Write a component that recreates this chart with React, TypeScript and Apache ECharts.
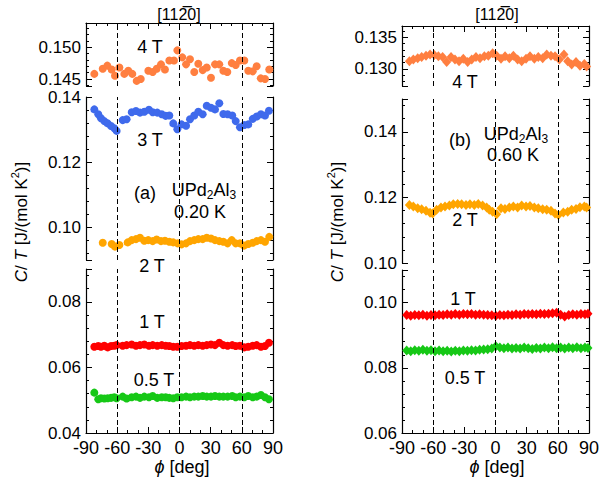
import React, { useEffect, useRef } from "react";
import * as echarts from "echarts";

const FONT = '"Liberation Sans", Arial, Helvetica, sans-serif';

// ---------- (a) UPd2Al3, 0.20 K (left) ----------
const phiL4 = [-82.0, -73.9, -69.5, -65.3, -62.1, -57.9, -53.1, -49.3, -45.4, -41.2, -37.3, -30.0, -25.8, -21.9, -17.8, -14.0, -9.8, -5.3, -2.1, 2.7, 6.3, 10.1, 14.2, 18.1, 22.3, 26.2, 30.3, 34.2, 38.3, 42.2, 46.0, 50.3, 54.1, 58.2, 62.4, 66.2, 70.5, 74.3, 78.2, 82.3, 86.4];
const ctL4 = [0.1458, 0.1466, 0.1471, 0.1465, 0.1455, 0.1468, 0.1458, 0.1463, 0.1458, 0.1447, 0.1450, 0.1463, 0.1461, 0.1466, 0.1473, 0.1465, 0.1479, 0.1479, 0.1495, 0.1484, 0.1473, 0.1481, 0.1461, 0.1474, 0.1464, 0.1468, 0.1452, 0.1473, 0.1473, 0.1463, 0.1461, 0.1475, 0.1472, 0.1479, 0.1479, 0.1463, 0.1462, 0.1470, 0.1451, 0.1450, 0.1465];

const phiL3 = [-82.0, -78.2, -75.6, -72.4, -69.1, -65.9, -62.8, -60.5, -54.7, -50.9, -46.0, -41.9, -38.0, -33.9, -29.4, -25.8, -21.4, -17.1, -13.3, -9.8, -6.0, -2.1, 2.0, 6.3, 10.1, 14.2, 18.1, 22.3, 26.2, 30.3, 34.2, 38.3, 42.2, 46.3, 50.8, 54.1, 58.2, 62.4, 66.2, 70.5, 74.3, 78.4, 82.3, 86.1];
const ctL3 = [0.1362, 0.1347, 0.1335, 0.1326, 0.1319, 0.1311, 0.1304, 0.1296, 0.1329, 0.1332, 0.1353, 0.1357, 0.1352, 0.1355, 0.1361, 0.1353, 0.1352, 0.1347, 0.1342, 0.1343, 0.1319, 0.1301, 0.1316, 0.1312, 0.1332, 0.1343, 0.1355, 0.1347, 0.1373, 0.1367, 0.1362, 0.1381, 0.1348, 0.1347, 0.1343, 0.1326, 0.1307, 0.1314, 0.1316, 0.1333, 0.1340, 0.1347, 0.1343, 0.1358];

const phiL2 = [-73.9, -65.3, -62.1, -57.9, -49.9, -46.0, -41.9, -38.0, -33.9, -30.1, -25.8, -22.0, -17.8, -14.0, -9.8, -6.0, -1.8, 2.0, 6.3, 10.1, 14.2, 18.1, 22.3, 26.2, 30.3, 34.2, 38.3, 42.2, 46.3, 50.3, 54.1, 58.2, 62.1, 66.2, 70.5, 74.3, 78.4, 82.3, 86.4];
const ctL2 = [0.0953, 0.0949, 0.0941, 0.0946, 0.0954, 0.0961, 0.0964, 0.0968, 0.0959, 0.0961, 0.0958, 0.0963, 0.0958, 0.0959, 0.0956, 0.0954, 0.0951, 0.0948, 0.0951, 0.0958, 0.0961, 0.0964, 0.0964, 0.0968, 0.0966, 0.0961, 0.0958, 0.0956, 0.0951, 0.0961, 0.0951, 0.0951, 0.0944, 0.0949, 0.0953, 0.0958, 0.0961, 0.0956, 0.0971];

const phiL1 = phiL3;
const ctL1 = [0.0663, 0.0665, 0.0663, 0.0666, 0.0661, 0.0665, 0.0666, 0.0668, 0.0666, 0.0668, 0.0670, 0.0666, 0.0668, 0.0670, 0.0666, 0.0668, 0.0666, 0.0668, 0.0666, 0.0665, 0.0663, 0.0663, 0.0665, 0.0666, 0.0668, 0.0666, 0.0668, 0.0666, 0.0668, 0.0670, 0.0668, 0.0675, 0.0668, 0.0666, 0.0668, 0.0665, 0.0666, 0.0661, 0.0663, 0.0666, 0.0668, 0.0663, 0.0665, 0.0675];
const ctL05 = [0.0523, 0.0503, 0.0506, 0.0505, 0.0506, 0.0507, 0.0509, 0.0506, 0.0511, 0.0505, 0.0509, 0.0511, 0.0507, 0.0511, 0.0509, 0.0513, 0.0507, 0.0509, 0.0509, 0.0507, 0.0506, 0.0509, 0.0509, 0.0511, 0.0509, 0.0511, 0.0511, 0.0513, 0.0511, 0.0511, 0.0513, 0.0511, 0.0511, 0.0511, 0.0513, 0.0509, 0.0511, 0.0509, 0.0513, 0.0509, 0.0511, 0.0516, 0.0509, 0.0503];

// ---------- (b) UPd2Al3, 0.60 K (right) ----------
const phiR4 = [-82.9, -79.1, -74.9, -71.1, -66.9, -63.0, -58.9, -55.0, -50.9, -47.0, -42.8, -39.0, -35.1, -31.0, -26.8, -22.9, -18.8, -14.9, -10.7, -6.9, -2.7, 1.1, 5.3, 9.2, 13.3, 17.2, 21.3, 25.2, 29.4, 33.2, 37.4, 41.2, 45.4, 49.3, 53.4, 57.3, 61.5, 65.9, 69.5, 73.3, 77.5, 81.3, 85.5, 87.7];
const ctR4 = [0.1312, 0.1315, 0.1317, 0.1319, 0.1321, 0.1323, 0.1322, 0.1320, 0.1319, 0.1311, 0.1319, 0.1315, 0.1312, 0.1316, 0.1311, 0.1315, 0.1319, 0.1317, 0.1320, 0.1321, 0.1325, 0.1321, 0.1316, 0.1320, 0.1317, 0.1321, 0.1315, 0.1312, 0.1316, 0.1320, 0.1316, 0.1319, 0.1317, 0.1323, 0.1321, 0.1320, 0.1315, 0.1323, 0.1312, 0.1307, 0.1311, 0.1305, 0.1308, 0.1304];

const phiR2 = [-82.9, -79.1, -74.9, -71.1, -66.9, -63.0, -60.5, -56.7, -52.5, -48.6, -44.4, -40.6, -36.4, -32.6, -28.4, -24.6, -20.4, -16.6, -12.4, -8.5, -6.0, -2.8, 1.1, 5.3, 9.1, 13.3, 17.2, 21.3, 25.2, 29.4, 33.2, 37.4, 41.2, 45.4, 49.3, 53.4, 57.3, 60.5, 65.3, 69.5, 73.3, 77.5, 81.3, 85.5, 87.7];
const ctR2 = [0.1177, 0.1172, 0.1167, 0.1164, 0.1159, 0.1153, 0.1151, 0.1162, 0.1169, 0.1172, 0.1175, 0.1179, 0.1180, 0.1179, 0.1177, 0.1179, 0.1177, 0.1180, 0.1175, 0.1169, 0.1162, 0.1156, 0.1149, 0.1167, 0.1165, 0.1169, 0.1172, 0.1169, 0.1175, 0.1172, 0.1174, 0.1169, 0.1167, 0.1164, 0.1162, 0.1159, 0.1151, 0.1146, 0.1154, 0.1156, 0.1162, 0.1165, 0.1170, 0.1172, 0.1169];

const phiR1 = [-85.5, -81.6, -77.7, -73.8, -69.9, -66.0, -62.1, -58.2, -54.3, -50.4, -46.5, -42.6, -38.7, -34.8, -30.9, -27.0, -23.1, -19.2, -15.3, -11.4, -7.5, -3.6, 0.3, 4.2, 8.1, 12.0, 15.9, 19.8, 23.7, 27.6, 31.5, 35.4, 39.3, 43.2, 47.1, 51.0, 54.9, 58.8, 62.7, 66.6, 70.5, 74.4, 78.3, 82.2, 86.1, 89.0];
const ctR1 = [0.0962, 0.0960, 0.0962, 0.0961, 0.0963, 0.0960, 0.0962, 0.0961, 0.0963, 0.0962, 0.0964, 0.0963, 0.0965, 0.0963, 0.0965, 0.0964, 0.0965, 0.0963, 0.0964, 0.0963, 0.0962, 0.0961, 0.0960, 0.0962, 0.0961, 0.0963, 0.0962, 0.0964, 0.0963, 0.0965, 0.0964, 0.0965, 0.0964, 0.0966, 0.0965, 0.0966, 0.0967, 0.0969, 0.0963, 0.0957, 0.0962, 0.0964, 0.0963, 0.0965, 0.0964, 0.0966];
const ctR05 = [0.0853, 0.0851, 0.0854, 0.0852, 0.0855, 0.0852, 0.0854, 0.0851, 0.0853, 0.0851, 0.0852, 0.0850, 0.0852, 0.0851, 0.0853, 0.0852, 0.0854, 0.0853, 0.0855, 0.0856, 0.0857, 0.0859, 0.0866, 0.0862, 0.0860, 0.0862, 0.0859, 0.0861, 0.0859, 0.0862, 0.0860, 0.0858, 0.0861, 0.0859, 0.0862, 0.0860, 0.0863, 0.0860, 0.0862, 0.0859, 0.0862, 0.0860, 0.0863, 0.0860, 0.0862, 0.0861];

// ---------- axes ----------
const phiRange = [-90, 90];
const phiInterval = 30;
const phiMarks = [-60, 0, 60];

// panel order: left-top, left-mid, left-bottom, right-top, right-mid, right-bottom
const yRanges = [
  [0.1439, 0.1538], [0.09, 0.14], [0.04, 0.09],
  [0.1273, 0.1368], [0.10, 0.15], [0.06, 0.11],
];
const yLabels = [
  [0.145, 0.150], [0.10, 0.12, 0.14], [0.04, 0.06, 0.08],
  [0.130, 0.135], [0.10, 0.12, 0.14], [0.06, 0.08, 0.10],
];
const yMajorTicks = [
  [0.1439, 0.145, 0.150], [0.09, 0.10, 0.12, 0.14], [0.04, 0.06, 0.08, 0.09],
  [0.1273, 0.130, 0.135], [0.10, 0.12, 0.14, 0.15], [0.06, 0.08, 0.10, 0.11],
];
const yMinorTicks = [
  [0.144, 0.146, 0.147, 0.148, 0.149, 0.151, 0.152, 0.153],
  [0.092, 0.096, 0.104, 0.108, 0.112, 0.116, 0.124, 0.128, 0.132, 0.136],
  [0.044, 0.048, 0.052, 0.056, 0.064, 0.068, 0.072, 0.076, 0.084, 0.088],
  [0.128, 0.129, 0.131, 0.132, 0.133, 0.134, 0.136],
  [0.104, 0.108, 0.112, 0.116, 0.124, 0.128, 0.132, 0.136, 0.144, 0.148],
  [0.064, 0.068, 0.072, 0.076, 0.084, 0.088, 0.092, 0.096, 0.104, 0.108],
];

const COLORS = {
  t4: "#FF7F40",
  t3: "#3F6AEC",
  t2: "#FFA500",
  t1: "#FF0000",
  t05: "#16C816",
};

const GRIDS = [
  { left: 86, top: 23, width: 187, height: 63 },
  { left: 86, top: 97, width: 187, height: 163 },
  { left: 86, top: 269, width: 187, height: 164 },
  { left: 402, top: 26, width: 187, height: 60 },
  { left: 402, top: 99, width: 187, height: 164 },
  { left: 402, top: 270, width: 187, height: 163 },
];

const FS = 18;
const FS_Y = 17;

function buildOption() {
  const line = { color: "#000", width: 1.2 };
  const tickLine = { color: "#000", width: 1 };

  const grid = GRIDS.map((g) => ({ ...g, containLabel: false, outerBoundsMode: "none" }));

  const xAxis = GRIDS.map((_, i) => {
    const role = i % 3;
    const base: any = {
      type: "value",
      gridIndex: i,
      min: phiRange[0],
      max: phiRange[1],
      interval: phiInterval,
      splitLine: { show: false },
    };
    if (role === 1) return { ...base, show: false };
    return {
      ...base,
      position: role === 0 ? "top" : "bottom",
      axisLine: { show: true, onZero: false, lineStyle: line },
      axisTick: { show: true, inside: true, length: 6, lineStyle: tickLine },
      minorTick: { show: true, splitNumber: 3, length: 3, lineStyle: tickLine },
      axisLabel: {
        show: role === 2,
        fontSize: FS,
        fontFamily: FONT,
        color: "#000",
        margin: 6,
      },
    };
  });

  const yAxis: any[] = [];
  GRIDS.forEach((_, i) => {
    const [mn, mx] = yRanges[i];
    const common = { type: "value", gridIndex: i, min: mn, max: mx, splitLine: { show: false }, scale: true };
    const fmt = (v: number) => (i % 3 === 0 ? v.toFixed(3) : v.toFixed(2));
    for (const pos of ["left", "right"]) {
      yAxis.push({
        ...common,
        position: pos,
        axisLine: { show: true, onZero: false, lineStyle: line },
        axisTick: { show: true, inside: true, length: 6, customValues: yMajorTicks[i], lineStyle: tickLine },
        axisLabel: pos === "left"
          ? { show: true, customValues: yLabels[i], formatter: fmt, fontSize: FS_Y, fontFamily: FONT, color: "#000", margin: 5 }
          : { show: false },
      });
      yAxis.push({
        ...common,
        position: pos,
        axisLine: { show: false, onZero: false },
        axisTick: { show: true, inside: true, length: 3, customValues: yMinorTicks[i], lineStyle: tickLine },
        axisLabel: { show: false },
      });
    }
  });

  const markLine = {
    silent: true,
    symbol: ["none", "none"],
    label: { show: false },
    lineStyle: { color: "#000", width: 1, type: [5, 3] },
    data: phiMarks.map((v) => ({ xAxis: v })),
    animation: false,
  };

  const mk = (name: string, xs: number[], ys: number[], gi: number, color: string, right: boolean, lines: boolean) => ({
    type: "scatter",
    name,
    xAxisIndex: gi,
    yAxisIndex: gi * 4,
    data: xs.map((x, k) => [x, ys[k]]),
    symbol: right ? "diamond" : "circle",
    symbolSize: right ? [9, 10] : 8,
    itemStyle: { color, opacity: 1 },
    silent: true,
    ...(lines ? { markLine } : {}),
  });

  const series = [
    mk("4 T (a)", phiL4, ctL4, 0, COLORS.t4, false, true),
    mk("3 T (a)", phiL3, ctL3, 1, COLORS.t3, false, true),
    mk("2 T (a)", phiL2, ctL2, 1, COLORS.t2, false, false),
    mk("1 T (a)", phiL1, ctL1, 2, COLORS.t1, false, true),
    mk("0.5 T (a)", phiL1, ctL05, 2, COLORS.t05, false, false),
    mk("4 T (b)", phiR4, ctR4, 3, COLORS.t4, true, true),
    mk("2 T (b)", phiR2, ctR2, 4, COLORS.t2, true, true),
    mk("1 T (b)", phiR1, ctR1, 5, COLORS.t1, true, true),
    mk("0.5 T (b)", phiR1, ctR05, 5, COLORS.t05, true, false),
  ];

  const txt = (x: number, y: number, text: string, extra: any = {}, el: any = {}) => ({
    type: "text",
    x,
    y,
    silent: true,
    ...el,
    style: {
      text,
      fontSize: FS,
      fontFamily: FONT,
      fill: "#000",
      align: "center",
      verticalAlign: "middle",
      textAlign: "center",
      textVerticalAlign: "middle",
      ...extra,
    },
  });

  const richChem = {
    lineHeight: 22,
    rich: {
      sub: { fontSize: 12, fontFamily: FONT, verticalAlign: "bottom", fill: "#000" },
    },
  };
  const richYTitle = {
    fontSize: 17,
    lineHeight: 24,
    rich: {
      i: { fontStyle: "italic", fontSize: 17, fontFamily: FONT, fill: "#000" },
      sup: { fontSize: 11, fontFamily: FONT, verticalAlign: "top", fill: "#000" },
    },
  };
  const richX = {
    rich: { i: { fontStyle: "italic", fontSize: FS, fontFamily: FONT, fill: "#000" } },
  };

  const graphic = [
    // direction labels
    txt(179, 14, "[112\u03050]", { fontSize: 16 }),
    txt(497, 14, "[112\u03050]", { fontSize: 16 }),
    // y titles
    txt(21, 222, "{i|C}/ {i|T} [J/(mol K{sup|2})]", richYTitle, { rotation: Math.PI / 2 }),
    txt(337, 222, "{i|C}/ {i|T} [J/(mol K{sup|2})]", richYTitle, { rotation: Math.PI / 2 }),
    // x titles
    txt(182, 467, "{i|\u03D5} [deg]", richX),
    txt(497, 467, "{i|\u03D5} [deg]", richX),
    // left panel annotations
    txt(150, 47, "4 T"),
    txt(150, 140, "3 T"),
    txt(145, 193, "(a)"),
    txt(204, 190, "UPd{sub|2}Al{sub|3}", richChem),
    txt(200, 212, "0.20 K"),
    txt(152, 266, "2 T"),
    txt(152, 322, "1 T"),
    txt(154, 380, "0.5 T"),
    // right panel annotations
    txt(465, 82, "4 T"),
    txt(460, 140, "(b)"),
    txt(516, 134, "UPd{sub|2}Al{sub|3}", richChem),
    txt(513, 155, "0.60 K"),
    txt(465, 220, "2 T"),
    txt(463, 299, "1 T"),
    txt(465, 378, "0.5 T"),
  ];

  return {
    animation: false,
    backgroundColor: "#fff",
    textStyle: { fontFamily: FONT },
    grid,
    xAxis,
    yAxis,
    series,
    graphic,
  };
}

export default function App() {
  const ref = useRef<HTMLDivElement>(null);
  useEffect(() => {
    if (!ref.current) return;
    const chart = echarts.init(ref.current, undefined, { renderer: "svg" });
    chart.setOption(buildOption() as any);
    return () => chart.dispose();
  }, []);
  return (
    <div
      ref={ref}
      style={{ position: "absolute", left: 0, top: 0, width: 600, height: 487, background: "#fff" }}
    />
  );
}
